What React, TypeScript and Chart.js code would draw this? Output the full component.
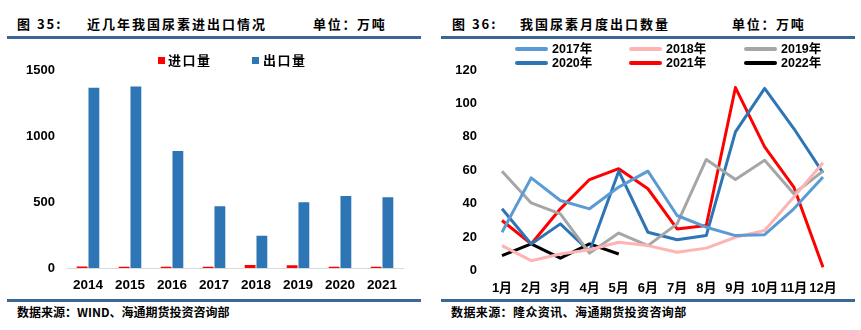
import React, { useEffect, useRef } from "react";
import { Chart, registerables } from "chart.js";

Chart.register(...registerables);

// ---------- Data: left chart (图35) ----------
const years = ["2014", "2015", "2016", "2017", "2018", "2019", "2020", "2021"];
const importVol = [15, 14, 13, 14, 26, 25, 13, 14];
const exportVol = [1365, 1375, 888, 470, 248, 500, 548, 538];
const barSeriesNames = ["进口量", "出口量"];

// ---------- Data: right chart (图36) ----------
const months = ["1月", "2月", "3月", "4月", "5月", "6月", "7月", "8月", "9月", "10月", "11月", "12月"];
const y2017 = [23, 55.5, 42, 37, 50, 59.5, 33, 26, 21, 21.5, 37, 56];
const y2018 = [15, 6, 10, 12.5, 17, 15, 11, 13.5, 20, 24, 44, 64.5];
const y2019 = [59.5, 40.5, 34, 10.5, 22.5, 15, 28, 66.5, 54.5, 66, 46, 59.5];
const y2020 = [37, 16, 28, 11.5, 59.5, 23, 18.5, 21, 83, 109, 85, 58.5];
const y2021 = [30, 16, 37, 54.5, 61, 49, 25, 27, 109.5, 74, 50, 2];
const y2022 = [9, 16, 7.5, 16, 10];
const lineSeriesNames = ["2017年", "2018年", "2019年", "2020年", "2021年", "2022年"];

const BAR_COLORS = ["#FF0000", "#2E75B6"];
const LINE_COLORS = ["#5B9BD5", "#FFB4B4", "#A6A6A6", "#2E75B6", "#FF0000", "#000000"];
const RULE = "#3C6695";
const FONT = '"Liberation Sans", Arial, "Noto Sans CJK SC", sans-serif';
const CJK = '"Noto Sans CJK SC", "Liberation Sans", sans-serif';
const CLEAR = "rgba(0,0,0,0)";

function BarChart() {
  const ref = useRef<HTMLCanvasElement>(null);
  useEffect(() => {
    const chart = new Chart(ref.current!, {
      type: "bar",
      data: {
        labels: years,
        datasets: [
          { label: barSeriesNames[0], data: importVol, backgroundColor: BAR_COLORS[0], categoryPercentage: 0.56, barPercentage: 0.92 },
          { label: barSeriesNames[1], data: exportVol, backgroundColor: BAR_COLORS[1], categoryPercentage: 0.56, barPercentage: 0.92 },
        ],
      },
      options: {
        animation: false,
        responsive: false,
        devicePixelRatio: 1,
        layout: { padding: { top: 30, right: 27, bottom: 0, left: 0 } },
        plugins: { legend: { display: false }, tooltip: { enabled: false } },
        scales: {
          x: {
            grid: { display: true, drawOnChartArea: false, drawTicks: false, color: CLEAR },
            border: { display: true, color: "#D9D9D9", width: 1 },
            ticks: { color: "#000", font: { family: FONT, size: 13.5, weight: "bold" }, padding: 8.4, maxRotation: 0, autoSkip: false },
            afterFit: (s: any) => { s.height = 26.5; },
          },
          y: {
            min: 0,
            max: 1500,
            grid: { display: true, drawOnChartArea: false, drawTicks: true, tickLength: 8, color: CLEAR },
            border: { display: false },
            ticks: { stepSize: 500, color: "#000", font: { family: FONT, size: 13, weight: "bold" }, padding: 4, callback: (v: any) => String(v) },
            afterFit: (s: any) => { s.width = 67; },
          },
        },
      },
    });
    return () => chart.destroy();
  }, []);
  return <canvas ref={ref} width={430} height={255} style={{ position: "absolute", left: 0, top: 40 }} />;
}

function LineChart() {
  const ref = useRef<HTMLCanvasElement>(null);
  useEffect(() => {
    const all = [y2017, y2018, y2019, y2020, y2021, y2022];
    const chart = new Chart(ref.current!, {
      type: "line",
      data: {
        labels: months,
        datasets: all.map((d, i) => ({
          label: lineSeriesNames[i],
          data: d,
          borderColor: LINE_COLORS[i],
          backgroundColor: LINE_COLORS[i],
          borderWidth: 3,
          pointRadius: 0,
          tension: 0,
          borderJoinStyle: "round" as const,
          fill: false,
        })),
      },
      options: {
        animation: false,
        responsive: false,
        devicePixelRatio: 1,
        layout: { padding: { top: 30, right: 38, bottom: 0, left: 0 } },
        plugins: { legend: { display: false }, tooltip: { enabled: false } },
        scales: {
          x: {
            grid: { display: true, drawOnChartArea: false, drawTicks: false, color: CLEAR },
            border: { display: false },
            ticks: { color: "#000", font: { family: FONT, size: 13, weight: "bold" }, padding: 9.5, maxRotation: 0, autoSkip: false },
            afterFit: (s: any) => { s.height = 24.3; },
          },
          y: {
            min: 0,
            max: 120,
            grid: { display: true, drawOnChartArea: false, drawTicks: true, tickLength: 20, color: CLEAR },
            border: { display: false },
            ticks: { stepSize: 20, color: "#000", font: { family: FONT, size: 13, weight: "bold" }, padding: 5, callback: (v: any) => String(v) },
            afterFit: (s: any) => { s.width = 72; },
          },
        },
      },
    });
    return () => chart.destroy();
  }, []);
  return <canvas ref={ref} width={431} height={255} style={{ position: "absolute", left: 430, top: 40 }} />;
}

const titleStyle: React.CSSProperties = {
  position: "absolute",
  top: 15,
  fontFamily: CJK,
  fontWeight: 700,
  fontSize: 13,
  lineHeight: "18px",
  color: "#000",
  whiteSpace: "nowrap",
};

function Header(props: { x0: number; num: string; title: string; titleX: number; unitX: number }) {
  return (
    <>
      <div style={{ ...titleStyle, left: props.x0, letterSpacing: 2 }}>{"图 " + props.num + ":"}</div>
      <div style={{ ...titleStyle, left: props.titleX, letterSpacing: 2 }}>{props.title}</div>
      <div style={{ ...titleStyle, left: props.unitX, letterSpacing: 1.7 }}>单位：万吨</div>
    </>
  );
}

function Rule(props: { x: number; y: number; w: number }) {
  return <div style={{ position: "absolute", left: props.x, top: props.y, width: props.w, height: 3, background: RULE }} />;
}

const sourceStyle: React.CSSProperties = {
  position: "absolute",
  top: 304,
  fontFamily: CJK,
  fontWeight: 700,
  fontSize: 12,
  lineHeight: "16px",
  color: "#000",
  whiteSpace: "nowrap",
};

export default function App() {
  const legendText: React.CSSProperties = {
    position: "absolute",
    fontFamily: CJK,
    fontWeight: 700,
    fontSize: 13,
    lineHeight: "16px",
    letterSpacing: 1.5,
    color: "#000",
    whiteSpace: "nowrap",
  };
  const lineLegendCols = [515, 629, 744];
  const lineLegendRows = [49, 63];
  return (
    <div style={{ position: "absolute", left: 0, top: 0, width: 861, height: 330, background: "#fff", overflow: "hidden" }}>
      <Header x0={17} num="35" title="近几年我国尿素进出口情况" titleX={87} unitX={313} />
      <Header x0={452} num="36" title="我国尿素月度出口数量" titleX={520} unitX={732} />
      <Rule x={7} y={36} w={414} />
      <Rule x={441} y={36} w={414} />

      <BarChart />
      <LineChart />

      {/* left legend */}
      {barSeriesNames.map((n, i) => (
        <React.Fragment key={n}>
          <div style={{ position: "absolute", left: [158, 252][i], top: 57, width: 7, height: 7, background: BAR_COLORS[i] }} />
          <div style={{ ...legendText, left: [168, 263][i], top: 52 }}>{n}</div>
        </React.Fragment>
      ))}

      {/* right legend */}
      {lineSeriesNames.map((n, i) => {
        const cx = lineLegendCols[i % 3];
        const cy = lineLegendRows[Math.floor(i / 3)];
        return (
          <React.Fragment key={n}>
            <div style={{ position: "absolute", left: cx, top: cy - 2, width: 33, height: 4, borderRadius: 2, background: LINE_COLORS[i] }} />
            <div style={{ position: "absolute", left: cx + 37, top: cy - 8, fontFamily: FONT, fontWeight: 700, fontSize: 12.5, lineHeight: "16px", color: "#000", whiteSpace: "nowrap" }}>{n}</div>
          </React.Fragment>
        );
      })}

      <Rule x={7} y={299} w={414} />
      <Rule x={441} y={299} w={414} />
      <div style={{ ...sourceStyle, left: 17 }}>数据来源：WIND、海通期货投资咨询部</div>
      <div style={{ ...sourceStyle, left: 451, letterSpacing: 0.4 }}>数据来源：隆众资讯、海通期货投资咨询部</div>
    </div>
  );
}
